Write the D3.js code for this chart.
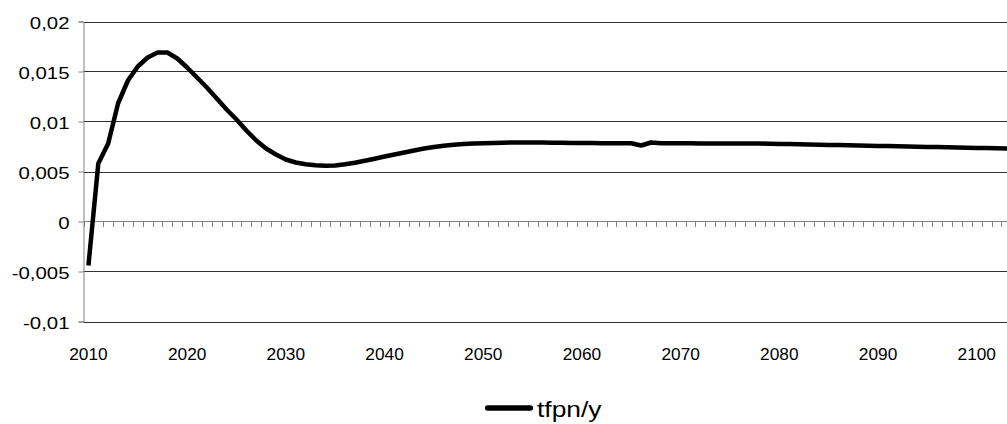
<!DOCTYPE html>
<html>
<head>
<meta charset="utf-8">
<script src="https://cdn.jsdelivr.net/npm/d3@7"></script>
<style>
  body { margin: 0; background: #fff; }
  svg { display: block; font-family: "Liberation Sans", Arial, sans-serif; }
</style>
</head>
<body>
<div id="chart"></div>
<script>
// annual series, 2010 onwards
const years = d3.range(2010, 2110);
const tfpn = [
  -0.0044, 0.0058, 0.0078, 0.0118, 0.0141, 0.0155, 0.0164, 0.0169, 0.0169, 0.0163,
   0.0154, 0.0144, 0.0134, 0.0123, 0.0112, 0.0102, 0.0091, 0.0081, 0.0073, 0.0067,
   0.0062, 0.0059, 0.00572, 0.00562, 0.00557, 0.0056, 0.00572, 0.00588, 0.00608, 0.00628,
   0.0065, 0.0067, 0.0069, 0.0071, 0.0073, 0.00745, 0.00758, 0.00767, 0.00774, 0.0078,
   0.00783, 0.00786, 0.00788, 0.0079, 0.0079, 0.0079, 0.00789, 0.00788, 0.00787, 0.00786,
   0.00785, 0.00784, 0.00783, 0.00783, 0.00782, 0.00782, 0.0076, 0.0079, 0.00783, 0.00782,
   0.00782, 0.00782, 0.00781, 0.00781, 0.00781, 0.0078, 0.0078, 0.0078, 0.00779, 0.00778,
   0.00776, 0.00774, 0.00772, 0.0077, 0.00768, 0.00766, 0.00764, 0.00762, 0.0076, 0.00758,
   0.00756, 0.00754, 0.00752, 0.0075, 0.00748, 0.00746, 0.00744, 0.00742, 0.0074, 0.00738,
   0.00736, 0.00734, 0.00732, 0.0073, 0.00728, 0.00726, 0.00725, 0.00724, 0.00723, 0.00722
];
const yTicks = [-0.01, -0.005, 0, 0.005, 0.01, 0.015, 0.02];
const xLabelYears = [2010, 2020, 2030, 2040, 2050, 2060, 2070, 2080, 2090, 2100];
const seriesName = "tfpn/y";

const width = 1007, height = 424;
const plotLeft = 83.5, plotTop = 21.5, plotBottom = 321.5;
const step = 9.87;
const stretch = 1.2; // labels in the picture are a little wide

const svg = d3.select("#chart").append("svg")
    .attr("width", width)
    .attr("height", height);

const x = d3.scaleBand()
    .domain(years)
    .range([plotLeft, plotLeft + years.length * step])
    .padding(0);

const y = d3.scaleLinear()
    .domain([-0.01, 0.02])
    .range([plotBottom, plotTop]);

const fmt = d3.formatLocale({ decimal: ",", thousands: ".", grouping: [3], currency: ["", ""], minus: "-" }).format("");

// gridlines
svg.append("g")
    .selectAll("line")
    .data(yTicks)
    .enter().append("line")
    .attr("x1", plotLeft)
    .attr("x2", width)
    .attr("y1", d => Math.round(y(d)) + 0.5)
    .attr("y2", d => Math.round(y(d)) + 0.5)
    .attr("stroke", d => d === 0 ? "#808080" : "#333")
    .attr("stroke-width", 1);

// y axis
const yAxis = svg.append("g")
    .attr("transform", `translate(${plotLeft},0)`)
    .call(d3.axisLeft(y).tickValues(yTicks).tickFormat(fmt).tickSize(5).tickPadding(0));
yAxis.select(".domain").attr("stroke", "#808080");
yAxis.selectAll(".tick line").attr("stroke", "#808080");
yAxis.selectAll("text")
    .attr("x", null)
    .attr("dy", "0.42em")
    .attr("font-size", 17)
    .attr("fill", "#000")
    .attr("transform", `translate(-14,0) scale(${stretch},1)`);

// category ticks on the zero line
svg.append("g")
    .selectAll("line")
    .data(years)
    .enter().append("line")
    .attr("x1", d => Math.round(x(d)) + 0.5)
    .attr("x2", d => Math.round(x(d)) + 0.5)
    .attr("y1", Math.round(y(0)))
    .attr("y2", Math.round(y(0)) + 6)
    .attr("stroke", "#808080");

// x labels at the bottom
svg.append("g")
    .selectAll("text")
    .data(xLabelYears)
    .enter().append("text")
    .attr("transform", d => `translate(${x(d) + x.bandwidth() / 2},360) scale(1.08,1)`)
    .attr("text-anchor", "middle")
    .attr("font-size", 16)
    .text(d => d);

// series line
const line = d3.line()
    .x((d, i) => x(years[i]) + x.bandwidth() / 2)
    .y(d => y(d));

svg.append("path")
    .datum(tfpn)
    .attr("fill", "none")
    .attr("stroke", "#000")
    .attr("stroke-width", 4.5)
    .attr("stroke-linejoin", "round")
    .attr("d", line);

// legend
const legend = svg.append("g").attr("transform", "translate(485,408)");
legend.append("line")
    .attr("x1", 2.7).attr("x2", 45.3)
    .attr("stroke", "#000")
    .attr("stroke-width", 5.5)
    .attr("stroke-linecap", "round");
legend.append("text")
    .attr("transform", `translate(52,9) scale(${stretch},1)`)
    .attr("font-size", 22)
    .text(seriesName);
</script>
</body>
</html>
